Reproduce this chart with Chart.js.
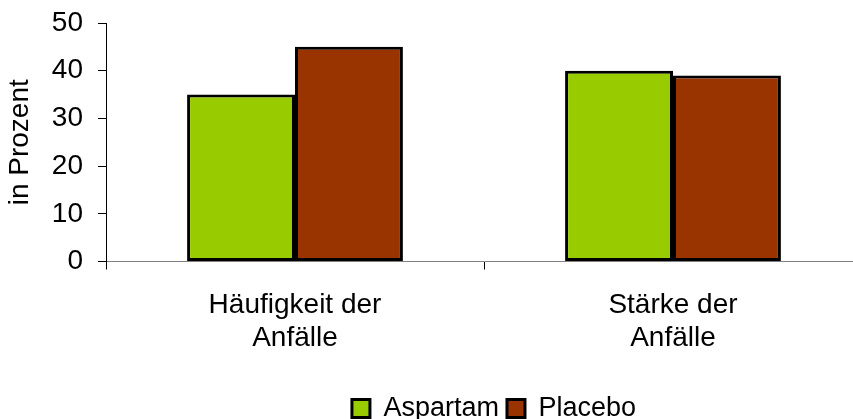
<!DOCTYPE html>
<html lang="de">
<head>
  <meta charset="UTF-8" />
  <title>Aspartam vs. Placebo</title>
  <script src="https://cdn.jsdelivr.net/npm/chart.js"></script>
  <style>
    html, body { margin: 0; padding: 0; background: #fff; overflow: hidden; }
    #wrap { width: 853px; height: 419px; overflow: hidden; }
  </style>
</head>
<body>
  <div id="wrap">
    <canvas id="chart" width="862" height="432"></canvas>
  </div>

  <script>
    // data
    const categories = [["Häufigkeit der", "Anfälle"], ["Stärke der", "Anfälle"]];
    const aspartam = [35, 40];
    const placebo = [45, 39];
    const yTicks = [0, 10, 20, 30, 40, 50];

    const font = "Arial, 'Liberation Sans', sans-serif";

    // nudge the legend a bit right, like in the original
    const legendShift = {
      id: "legendShift",
      afterUpdate(chart) {
        chart.legend.left += 10;
        chart.legend.right += 10;
      }
    };

    new Chart(document.getElementById("chart"), {
      type: "bar",
      data: {
        labels: categories,
        datasets: [
          {
            label: "Aspartam",
            data: aspartam,
            backgroundColor: "#99CC00",
            borderColor: "#000000",
            borderWidth: 3,
            borderSkipped: false
          },
          {
            label: "Placebo",
            data: placebo,
            backgroundColor: "#993300",
            borderColor: "#000000",
            borderWidth: 3,
            borderSkipped: false
          }
        ]
      },
      options: {
        responsive: false,
        animation: false,
        devicePixelRatio: 1,
        categoryPercentage: 0.571,
        barPercentage: 1,
        layout: { padding: { top: 23, left: 0, right: 0, bottom: 0 } },
        plugins: {
          legend: {
            position: "bottom",
            fullSize: false,
            labels: {
              color: "#000",
              font: { family: font, size: 27 },
              boxWidth: 18,
              boxHeight: 18,
              padding: 8
            }
          },
          tooltip: { enabled: false }
        },
        scales: {
          x: {
            afterFit: s => { s.height = 125.5; },
            border: { color: "#808080", width: 1 },
            grid: { offset: true, drawOnChartArea: false, drawTicks: true, tickLength: 8, color: "#000" },
            ticks: {
              color: "#000",
              padding: 19,
              maxRotation: 0,
              font: { family: font, size: 28, lineHeight: 1.18 }
            }
          },
          y: {
            min: 0,
            max: 50,
            afterFit: s => { s.width = 106; },
            afterBuildTicks: s => { s.ticks = yTicks.map(v => ({ value: v })); },
            border: { color: "#000", width: 1 },
            grid: { drawOnChartArea: false, drawTicks: true, tickLength: 8, color: "#000" },
            ticks: {
              color: "#000",
              padding: 15,
              font: { family: font, size: 28, lineHeight: 0.5 }
            },
            title: {
              display: true,
              text: "in Prozent",
              color: "#000",
              padding: { top: 3, bottom: 0 },
              font: { family: font, size: 28 }
            }
          }
        }
      },
      plugins: [legendShift]
    });
  </script>
</body>
</html>
